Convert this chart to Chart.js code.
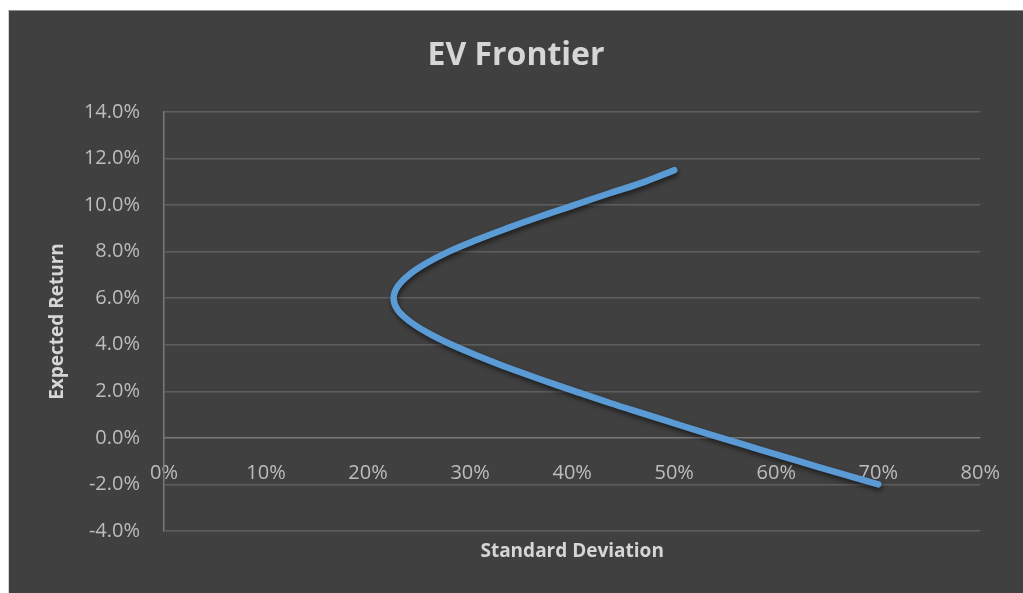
<!DOCTYPE html>
<html>
<head>
<meta charset="utf-8">
<title>EV Frontier</title>
<script src="https://cdn.jsdelivr.net/npm/chart.js@4/dist/chart.umd.min.js"></script>
<style>
  html, body { margin: 0; padding: 0; background: #ffffff; overflow: hidden; width: 1023px; height: 593px; }
  #frame {
    position: absolute; left: 8px; top: 10px;
    border-top: 1px solid #8e8e8e; border-left: 1px solid #d4d4d4;
    background: #404040;
  }
  #wrap { position: relative; width: 1014px; height: 582px; }
</style>
</head>
<body>
<div id="frame"><div id="wrap"><canvas id="chart"></canvas></div></div>
<script>
// Efficient frontier: standard deviation (%) against expected return (%)
const stdDev = [50.0, 47.1, 43.6, 40.2, 36.8, 33.6, 30.6, 27.9, 25.7, 24.0, 22.9, 22.5,
                22.9, 24.1, 25.9, 28.2, 30.9, 33.8, 37.0, 40.3, 43.7, 47.3, 50.9, 54.6,
                58.4, 62.2, 66.1, 70.0];
const expReturn = [11.5, 11.0, 10.5, 10.0, 9.5, 9.0, 8.5, 8.0, 7.5, 7.0, 6.5, 6.0,
                   5.5, 5.0, 4.5, 4.0, 3.5, 3.0, 2.5, 2.0, 1.5, 1.0, 0.5, 0.0,
                   -0.5, -1.0, -1.5, -2.0];
const xTicks = [0, 10, 20, 30, 40, 50, 60, 70, 80];
const yTicks = [-4, -2, 0, 2, 4, 6, 8, 10, 12, 14];

const points = stdDev.map((s, i) => ({ x: s, y: expReturn[i] }));

const FONT = "'Open Sans', 'Noto Sans', sans-serif";
const TICK_COLOR = '#bdbdbd';
const TITLE_COLOR = '#d6d6d6';

// soft drop shadow under the frontier line
const lineShadow = {
  id: 'lineShadow',
  beforeDatasetDraw(chart) {
    const ctx = chart.ctx;
    ctx.save();
    ctx.shadowColor = 'rgba(0,0,0,0.55)';
    ctx.shadowBlur = 5;
    ctx.shadowOffsetX = 1;
    ctx.shadowOffsetY = 3;
  },
  afterDatasetDraw(chart) {
    chart.ctx.restore();
  }
};

new Chart(document.getElementById('chart'), {
  type: 'scatter',
  data: {
    datasets: [{
      data: points,
      showLine: true,
      tension: 0.4,
      borderColor: '#5b9bd5',
      borderWidth: 6.5,
      borderCapStyle: 'round',
      borderJoinStyle: 'round',
      pointRadius: 0,
      pointHoverRadius: 0,
      fill: false
    }]
  },
  plugins: [lineShadow],
  options: {
    responsive: true,
    maintainAspectRatio: false,
    animation: false,
    events: [],
    layout: { padding: 0 },
    plugins: {
      legend: { display: false },
      tooltip: { enabled: false },
      title: {
        display: true,
        text: 'EV Frontier',
        color: TITLE_COLOR,
        font: { family: FONT, size: 32, weight: 'bold', lineHeight: 1.2 },
        padding: { top: 26, bottom: 36.6 }
      }
    },
    scales: {
      x: {
        type: 'linear',
        position: 'bottom',
        min: 0, max: 80,
        afterFit(scale) { scale.height = 62; },
        grid: { display: false, drawTicks: false },
        border: { display: false },
        ticks: { display: false },
        title: {
          display: true,
          text: 'Standard Deviation',
          color: TITLE_COLOR,
          font: { family: FONT, size: 19, weight: 'bold', lineHeight: 1.2 },
          padding: { top: 0, bottom: 30 }
        }
      },
      xLabels: {
        type: 'linear',
        axis: 'x',
        position: { y: 0 },
        min: 0, max: 80,
        afterBuildTicks(scale) { scale.ticks = xTicks.map(v => ({ value: v })); },
        afterFit(scale) { scale.height = 0; },
        grid: { display: false, drawTicks: false },
        border: { display: false },
        ticks: {
          color: TICK_COLOR,
          padding: 23,
          maxRotation: 0,
          autoSkip: false,
          font: { family: FONT, size: 20 },
          callback: v => v + '%'
        }
      },
      y: {
        type: 'linear',
        position: 'left',
        min: -4, max: 14,
        afterBuildTicks(scale) { scale.ticks = yTicks.map(v => ({ value: v })); },
        afterFit(scale) { scale.width = 155; },
        grid: {
          drawTicks: false,
          lineWidth: 1.5,
          color: ctx => (ctx.tick && ctx.tick.value === 0) ? '#7a7a7a' : '#5e5e5e'
        },
        border: { display: true, color: '#7a7a7a', width: 1.5 },
        ticks: {
          color: TICK_COLOR,
          padding: 24,
          autoSkip: false,
          font: { family: FONT, size: 20 },
          callback: v => v.toFixed(1) + '%'
        },
        title: {
          display: true,
          text: 'Expected Return',
          color: TITLE_COLOR,
          font: { family: FONT, size: 19, weight: 'bold', lineHeight: 1.2 },
          padding: { top: 37, bottom: 0 }
        }
      },
      // empty right-hand margin so the plot area ends short of the frame edge
      yRight: {
        type: 'linear',
        position: 'right',
        min: -4, max: 14,
        afterFit(scale) { scale.width = 40; },
        grid: { display: false, drawTicks: false },
        border: { display: false },
        ticks: { display: false }
      }
    }
  }
});
</script>
</body>
</html>
